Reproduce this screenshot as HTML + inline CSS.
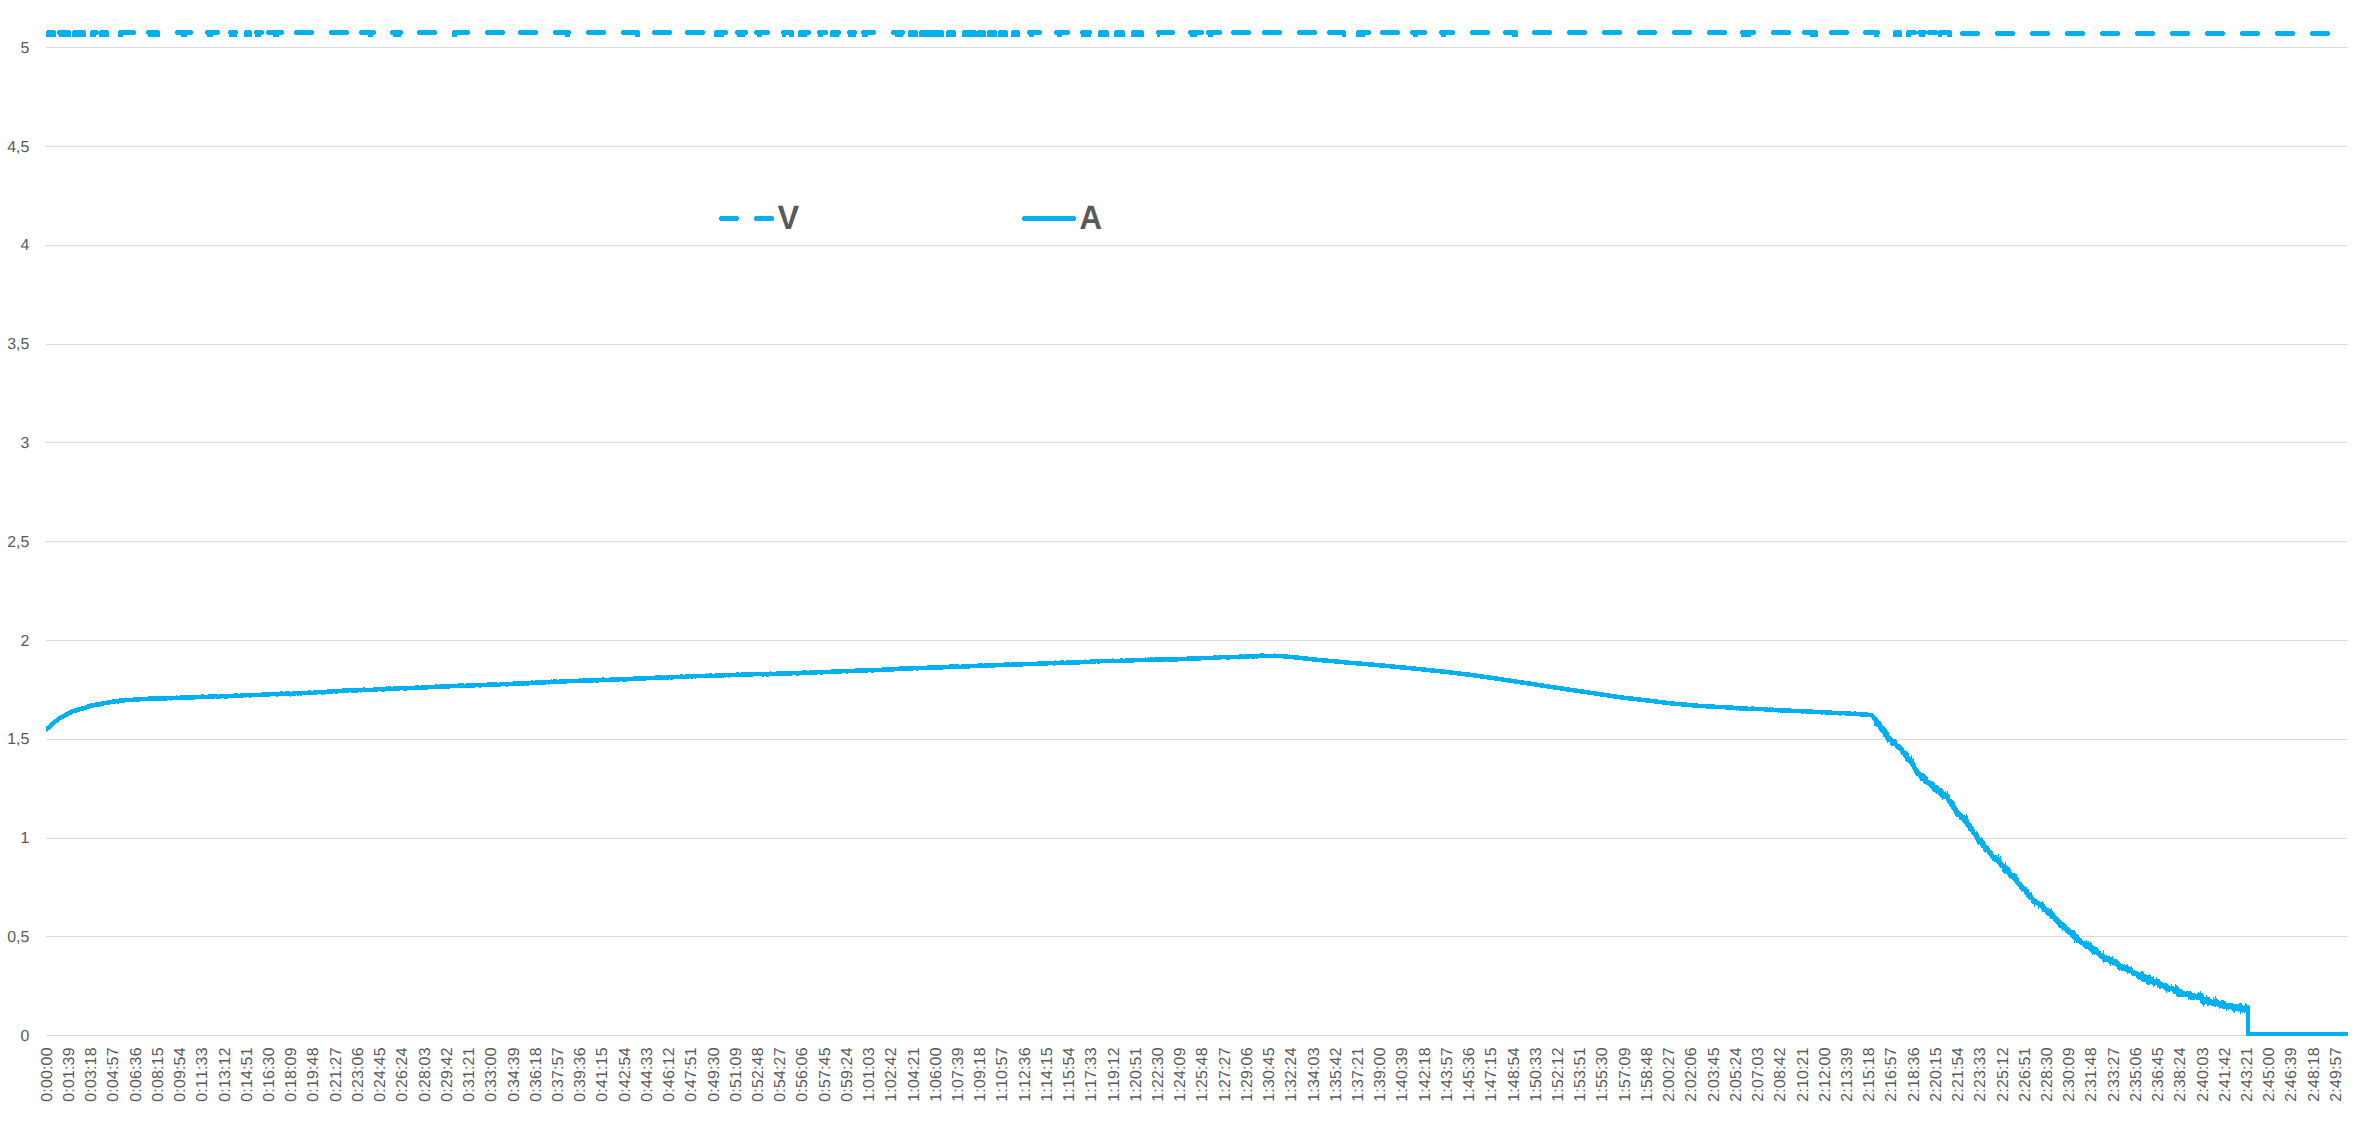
<!DOCTYPE html>
<html><head><meta charset="utf-8"><title>Chart</title>
<style>html,body{margin:0;padding:0;background:#fff;}body{width:2361px;height:1136px;overflow:hidden;}svg{display:block;}</style>
</head><body>
<svg width="2361" height="1136" viewBox="0 0 2361 1136"><path d="M46 47.5H2347 M46 146.5H2347 M46 245.5H2347 M46 344.5H2347 M46 442.5H2347 M46 541.5H2347 M46 640.5H2347 M46 739.5H2347 M46 838.5H2347 M46 936.5H2347 M46 1035.5H2347" stroke="#D9D9D9" stroke-width="1" fill="none"/><g font-family="Liberation Sans, Arial, sans-serif" font-size="15.9" fill="#595959" text-anchor="end" text-rendering="geometricPrecision"><text x="29.3" y="1040.8">0</text><text x="29.3" y="942.0">0,5</text><text x="29.3" y="843.2">1</text><text x="29.3" y="744.4">1,5</text><text x="29.3" y="645.6">2</text><text x="29.3" y="546.8">2,5</text><text x="29.3" y="448.0">3</text><text x="29.3" y="349.2">3,5</text><text x="29.3" y="250.4">4</text><text x="29.3" y="151.6">4,5</text><text x="29.3" y="52.8">5</text></g><g font-family="Liberation Sans, Arial, sans-serif" font-size="15.9" letter-spacing="0.2" fill="#595959" text-anchor="end" text-rendering="geometricPrecision" style="font-kerning:none"><text transform="translate(51.80 1047.3) rotate(-90)">0:00:00</text><text transform="translate(74.02 1047.3) rotate(-90)">0:01:39</text><text transform="translate(96.25 1047.3) rotate(-90)">0:03:18</text><text transform="translate(118.47 1047.3) rotate(-90)">0:04:57</text><text transform="translate(140.70 1047.3) rotate(-90)">0:06:36</text><text transform="translate(162.92 1047.3) rotate(-90)">0:08:15</text><text transform="translate(185.14 1047.3) rotate(-90)">0:09:54</text><text transform="translate(207.37 1047.3) rotate(-90)">0:11:33</text><text transform="translate(229.59 1047.3) rotate(-90)">0:13:12</text><text transform="translate(251.82 1047.3) rotate(-90)">0:14:51</text><text transform="translate(274.04 1047.3) rotate(-90)">0:16:30</text><text transform="translate(296.26 1047.3) rotate(-90)">0:18:09</text><text transform="translate(318.49 1047.3) rotate(-90)">0:19:48</text><text transform="translate(340.71 1047.3) rotate(-90)">0:21:27</text><text transform="translate(362.94 1047.3) rotate(-90)">0:23:06</text><text transform="translate(385.16 1047.3) rotate(-90)">0:24:45</text><text transform="translate(407.38 1047.3) rotate(-90)">0:26:24</text><text transform="translate(429.61 1047.3) rotate(-90)">0:28:03</text><text transform="translate(451.83 1047.3) rotate(-90)">0:29:42</text><text transform="translate(474.06 1047.3) rotate(-90)">0:31:21</text><text transform="translate(496.28 1047.3) rotate(-90)">0:33:00</text><text transform="translate(518.50 1047.3) rotate(-90)">0:34:39</text><text transform="translate(540.73 1047.3) rotate(-90)">0:36:18</text><text transform="translate(562.95 1047.3) rotate(-90)">0:37:57</text><text transform="translate(585.18 1047.3) rotate(-90)">0:39:36</text><text transform="translate(607.40 1047.3) rotate(-90)">0:41:15</text><text transform="translate(629.62 1047.3) rotate(-90)">0:42:54</text><text transform="translate(651.85 1047.3) rotate(-90)">0:44:33</text><text transform="translate(674.07 1047.3) rotate(-90)">0:46:12</text><text transform="translate(696.30 1047.3) rotate(-90)">0:47:51</text><text transform="translate(718.52 1047.3) rotate(-90)">0:49:30</text><text transform="translate(740.74 1047.3) rotate(-90)">0:51:09</text><text transform="translate(762.97 1047.3) rotate(-90)">0:52:48</text><text transform="translate(785.19 1047.3) rotate(-90)">0:54:27</text><text transform="translate(807.42 1047.3) rotate(-90)">0:56:06</text><text transform="translate(829.64 1047.3) rotate(-90)">0:57:45</text><text transform="translate(851.86 1047.3) rotate(-90)">0:59:24</text><text transform="translate(874.09 1047.3) rotate(-90)">1:01:03</text><text transform="translate(896.31 1047.3) rotate(-90)">1:02:42</text><text transform="translate(918.54 1047.3) rotate(-90)">1:04:21</text><text transform="translate(940.76 1047.3) rotate(-90)">1:06:00</text><text transform="translate(962.98 1047.3) rotate(-90)">1:07:39</text><text transform="translate(985.21 1047.3) rotate(-90)">1:09:18</text><text transform="translate(1007.43 1047.3) rotate(-90)">1:10:57</text><text transform="translate(1029.66 1047.3) rotate(-90)">1:12:36</text><text transform="translate(1051.88 1047.3) rotate(-90)">1:14:15</text><text transform="translate(1074.10 1047.3) rotate(-90)">1:15:54</text><text transform="translate(1096.33 1047.3) rotate(-90)">1:17:33</text><text transform="translate(1118.55 1047.3) rotate(-90)">1:19:12</text><text transform="translate(1140.78 1047.3) rotate(-90)">1:20:51</text><text transform="translate(1163.00 1047.3) rotate(-90)">1:22:30</text><text transform="translate(1185.22 1047.3) rotate(-90)">1:24:09</text><text transform="translate(1207.45 1047.3) rotate(-90)">1:25:48</text><text transform="translate(1229.67 1047.3) rotate(-90)">1:27:27</text><text transform="translate(1251.90 1047.3) rotate(-90)">1:29:06</text><text transform="translate(1274.12 1047.3) rotate(-90)">1:30:45</text><text transform="translate(1296.34 1047.3) rotate(-90)">1:32:24</text><text transform="translate(1318.57 1047.3) rotate(-90)">1:34:03</text><text transform="translate(1340.79 1047.3) rotate(-90)">1:35:42</text><text transform="translate(1363.02 1047.3) rotate(-90)">1:37:21</text><text transform="translate(1385.24 1047.3) rotate(-90)">1:39:00</text><text transform="translate(1407.46 1047.3) rotate(-90)">1:40:39</text><text transform="translate(1429.69 1047.3) rotate(-90)">1:42:18</text><text transform="translate(1451.91 1047.3) rotate(-90)">1:43:57</text><text transform="translate(1474.14 1047.3) rotate(-90)">1:45:36</text><text transform="translate(1496.36 1047.3) rotate(-90)">1:47:15</text><text transform="translate(1518.58 1047.3) rotate(-90)">1:48:54</text><text transform="translate(1540.81 1047.3) rotate(-90)">1:50:33</text><text transform="translate(1563.03 1047.3) rotate(-90)">1:52:12</text><text transform="translate(1585.26 1047.3) rotate(-90)">1:53:51</text><text transform="translate(1607.48 1047.3) rotate(-90)">1:55:30</text><text transform="translate(1629.70 1047.3) rotate(-90)">1:57:09</text><text transform="translate(1651.93 1047.3) rotate(-90)">1:58:48</text><text transform="translate(1674.15 1047.3) rotate(-90)">2:00:27</text><text transform="translate(1696.38 1047.3) rotate(-90)">2:02:06</text><text transform="translate(1718.60 1047.3) rotate(-90)">2:03:45</text><text transform="translate(1740.82 1047.3) rotate(-90)">2:05:24</text><text transform="translate(1763.05 1047.3) rotate(-90)">2:07:03</text><text transform="translate(1785.27 1047.3) rotate(-90)">2:08:42</text><text transform="translate(1807.50 1047.3) rotate(-90)">2:10:21</text><text transform="translate(1829.72 1047.3) rotate(-90)">2:12:00</text><text transform="translate(1851.94 1047.3) rotate(-90)">2:13:39</text><text transform="translate(1874.17 1047.3) rotate(-90)">2:15:18</text><text transform="translate(1896.39 1047.3) rotate(-90)">2:16:57</text><text transform="translate(1918.62 1047.3) rotate(-90)">2:18:36</text><text transform="translate(1940.84 1047.3) rotate(-90)">2:20:15</text><text transform="translate(1963.06 1047.3) rotate(-90)">2:21:54</text><text transform="translate(1985.29 1047.3) rotate(-90)">2:23:33</text><text transform="translate(2007.51 1047.3) rotate(-90)">2:25:12</text><text transform="translate(2029.74 1047.3) rotate(-90)">2:26:51</text><text transform="translate(2051.96 1047.3) rotate(-90)">2:28:30</text><text transform="translate(2074.18 1047.3) rotate(-90)">2:30:09</text><text transform="translate(2096.41 1047.3) rotate(-90)">2:31:48</text><text transform="translate(2118.63 1047.3) rotate(-90)">2:33:27</text><text transform="translate(2140.86 1047.3) rotate(-90)">2:35:06</text><text transform="translate(2163.08 1047.3) rotate(-90)">2:36:45</text><text transform="translate(2185.30 1047.3) rotate(-90)">2:38:24</text><text transform="translate(2207.53 1047.3) rotate(-90)">2:40:03</text><text transform="translate(2229.75 1047.3) rotate(-90)">2:41:42</text><text transform="translate(2251.98 1047.3) rotate(-90)">2:43:21</text><text transform="translate(2274.20 1047.3) rotate(-90)">2:45:00</text><text transform="translate(2296.42 1047.3) rotate(-90)">2:46:39</text><text transform="translate(2318.65 1047.3) rotate(-90)">2:48:18</text><text transform="translate(2340.87 1047.3) rotate(-90)">2:49:57</text></g><defs><clipPath id="pa"><rect x="46" y="0" width="2302" height="1136"/></clipPath><path id="al" d="M46.0 729.38 47.5 728.45 49.0 727.35 50.5 725.80 52.0 724.12 53.5 722.81 55.0 721.58 56.5 720.76 58.0 719.41 59.5 718.41 61.0 717.74 62.5 716.66 64.0 716.01 65.5 715.15 67.0 714.18 68.5 713.34 70.0 713.03 71.5 711.72 73.0 711.16 74.5 710.64 76.0 710.39 77.5 709.91 79.0 709.33 80.5 708.93 82.0 708.60 83.5 708.28 85.0 707.88 86.5 707.20 88.0 706.32 89.5 706.36 91.0 705.63 92.5 705.49 94.0 704.90 95.5 704.81 97.0 704.33 98.5 704.26 100.0 704.57 101.5 703.72 103.0 703.59 104.5 702.91 106.0 702.85 107.5 702.80 109.0 702.45 110.5 702.23 112.0 701.84 113.5 701.29 115.0 701.39 116.5 701.00 118.0 701.34 119.5 700.69 121.0 700.69 122.5 700.37 124.0 700.40 125.5 699.98 127.0 700.17 128.5 699.93 130.0 700.14 131.5 699.94 133.0 699.71 134.5 699.40 136.0 699.54 137.5 699.36 139.0 699.49 140.5 699.04 142.0 699.12 143.5 699.03 145.0 698.91 146.5 698.82 148.0 698.77 149.5 698.58 151.0 698.46 152.5 698.52 154.0 698.65 155.5 698.77 157.0 698.63 158.5 698.60 160.0 698.50 161.5 698.44 163.0 698.30 164.5 698.36 166.0 698.49 167.5 698.06 169.0 697.95 170.5 698.38 172.0 698.02 173.5 698.10 175.0 698.03 176.5 697.61 178.0 698.20 179.5 698.03 181.0 697.69 182.5 697.74 184.0 697.58 185.5 697.34 187.0 697.43 188.5 697.46 190.0 697.54 191.5 697.42 193.0 697.25 194.5 697.43 196.0 696.99 197.5 697.22 199.0 697.23 200.5 696.93 202.0 696.61 203.5 696.73 205.0 696.89 206.5 696.89 208.0 697.03 209.5 696.52 211.0 696.65 212.5 696.72 214.0 696.53 215.5 696.09 217.0 696.61 218.5 696.84 220.0 696.55 221.5 696.16 223.0 696.20 224.5 696.25 226.0 696.60 227.5 696.21 229.0 696.06 230.5 696.26 232.0 695.90 233.5 696.19 235.0 695.68 236.5 695.66 238.0 695.81 239.5 695.88 241.0 695.68 242.5 695.56 244.0 695.12 245.5 695.26 247.0 695.22 248.5 695.17 250.0 695.31 251.5 695.08 253.0 695.21 254.5 695.02 256.0 694.88 257.5 694.90 259.0 694.89 260.5 694.90 262.0 694.59 263.5 694.57 265.0 694.31 266.5 694.77 268.0 694.68 269.5 694.32 271.0 694.20 272.5 694.00 274.0 694.20 275.5 694.16 277.0 694.47 278.5 694.07 280.0 693.84 281.5 693.50 283.0 694.14 284.5 693.88 286.0 693.50 287.5 693.78 289.0 693.41 290.5 694.28 292.0 693.81 293.5 693.66 295.0 693.48 296.5 693.08 298.0 693.39 299.5 693.07 301.0 693.37 302.5 692.80 304.0 692.93 305.5 693.24 307.0 693.23 308.5 692.64 310.0 692.49 311.5 692.84 313.0 692.76 314.5 692.34 316.0 692.31 317.5 692.23 319.0 692.06 320.5 692.07 322.0 692.33 323.5 692.15 325.0 692.31 326.5 691.83 328.0 691.72 329.5 691.47 331.0 691.53 332.5 691.22 334.0 691.04 335.5 691.39 337.0 691.43 338.5 691.23 340.0 691.22 341.5 690.93 343.0 690.66 344.5 690.71 346.0 690.53 347.5 690.35 349.0 690.19 350.5 690.17 352.0 690.39 353.5 690.36 355.0 690.20 356.5 690.49 358.0 690.21 359.5 690.23 361.0 690.29 362.5 689.87 364.0 689.61 365.5 690.04 367.0 689.73 368.5 690.04 370.0 689.81 371.5 689.88 373.0 689.76 374.5 689.18 376.0 689.61 377.5 689.29 379.0 689.20 380.5 689.19 382.0 689.34 383.5 689.29 385.0 689.24 386.5 688.69 388.0 688.81 389.5 688.42 391.0 688.76 392.5 688.81 394.0 688.49 395.5 688.61 397.0 688.53 398.5 688.62 400.0 688.24 401.5 688.18 403.0 688.14 404.5 688.54 406.0 688.37 407.5 688.10 409.0 688.11 410.5 688.04 412.0 688.00 413.5 687.87 415.0 687.80 416.5 687.58 418.0 687.64 419.5 688.00 421.0 687.74 422.5 687.60 424.0 687.47 425.5 687.45 427.0 687.42 428.5 687.17 430.0 687.24 431.5 687.17 433.0 686.92 434.5 686.83 436.0 686.72 437.5 686.63 439.0 686.91 440.5 686.24 442.0 686.54 443.5 686.40 445.0 686.33 446.5 686.38 448.0 686.49 449.5 686.25 451.0 686.16 452.5 686.02 454.0 686.05 455.5 686.19 457.0 685.90 458.5 685.71 460.0 685.64 461.5 685.61 463.0 685.51 464.5 685.90 466.0 685.72 467.5 685.56 469.0 685.81 470.5 685.37 472.0 685.57 473.5 685.53 475.0 685.05 476.5 684.99 478.0 685.04 479.5 685.31 481.0 685.32 482.5 684.81 484.0 685.16 485.5 684.84 487.0 684.78 488.5 684.69 490.0 684.68 491.5 684.35 493.0 684.44 494.5 684.34 496.0 684.59 497.5 684.82 499.0 684.87 500.5 684.26 502.0 683.95 503.5 684.13 505.0 683.98 506.5 684.44 508.0 684.13 509.5 683.84 511.0 684.08 512.5 683.95 514.0 683.50 515.5 683.64 517.0 683.63 518.5 683.62 520.0 683.58 521.5 683.44 523.0 683.47 524.5 683.26 526.0 683.12 527.5 683.47 529.0 683.17 530.5 683.09 532.0 682.64 533.5 682.81 535.0 682.90 536.5 682.43 538.0 682.77 539.5 682.41 541.0 682.47 542.5 682.28 544.0 682.26 545.5 682.35 547.0 681.99 548.5 682.28 550.0 681.80 551.5 681.72 553.0 681.95 554.5 681.57 556.0 681.64 557.5 681.81 559.0 681.81 560.5 681.21 562.0 681.56 563.5 681.75 565.0 681.57 566.5 681.25 568.0 681.13 569.5 681.12 571.0 680.91 572.5 681.01 574.0 680.97 575.5 680.93 577.0 681.11 578.5 680.81 580.0 680.53 581.5 680.93 583.0 680.50 584.5 680.56 586.0 680.56 587.5 680.47 589.0 680.30 590.5 680.38 592.0 680.76 593.5 680.21 595.0 680.24 596.5 680.41 598.0 680.29 599.5 680.24 601.0 680.21 602.5 679.64 604.0 679.79 605.5 679.92 607.0 679.93 608.5 680.02 610.0 679.82 611.5 679.64 613.0 679.64 614.5 679.54 616.0 679.57 617.5 679.59 619.0 679.36 620.5 679.22 622.0 679.16 623.5 679.45 625.0 679.41 626.5 679.30 628.0 679.21 629.5 679.14 631.0 678.92 632.5 678.98 634.0 678.60 635.5 678.69 637.0 678.53 638.5 678.73 640.0 678.43 641.5 678.45 643.0 678.48 644.5 678.58 646.0 678.13 647.5 678.04 649.0 678.29 650.5 677.88 652.0 678.10 653.5 677.85 655.0 677.86 656.5 677.49 658.0 677.88 659.5 677.60 661.0 677.46 662.5 677.93 664.0 677.62 665.5 678.06 667.0 677.44 668.5 677.24 670.0 677.25 671.5 677.46 673.0 677.10 674.5 677.13 676.0 677.09 677.5 676.78 679.0 676.91 680.5 676.75 682.0 676.56 683.5 676.89 685.0 676.80 686.5 676.64 688.0 676.41 689.5 676.16 691.0 676.55 692.5 676.40 694.0 676.06 695.5 676.30 697.0 675.98 698.5 676.20 700.0 676.17 701.5 676.16 703.0 676.08 704.5 676.02 706.0 675.73 707.5 675.81 709.0 675.74 710.5 675.73 712.0 675.77 713.5 675.78 715.0 675.91 716.5 675.10 718.0 675.58 719.5 675.42 721.0 675.82 722.5 675.52 724.0 675.00 725.5 675.32 727.0 675.10 728.5 675.32 730.0 674.89 731.5 675.01 733.0 674.95 734.5 674.90 736.0 674.76 737.5 674.48 739.0 674.84 740.5 674.88 742.0 674.63 743.5 674.41 745.0 674.57 746.5 674.59 748.0 674.43 749.5 674.43 751.0 674.66 752.5 674.17 754.0 674.24 755.5 673.97 757.0 674.16 758.5 674.12 760.0 674.05 761.5 674.07 763.0 674.49 764.5 674.10 766.0 674.09 767.5 674.47 769.0 674.04 770.5 673.71 772.0 674.05 773.5 673.76 775.0 674.17 776.5 673.60 778.0 673.66 779.5 673.42 781.0 673.68 782.5 673.42 784.0 673.54 785.5 673.43 787.0 673.34 788.5 673.56 790.0 673.51 791.5 673.30 793.0 673.07 794.5 672.99 796.0 673.18 797.5 673.51 799.0 672.94 800.5 672.83 802.0 672.79 803.5 672.67 805.0 672.64 806.5 672.72 808.0 672.96 809.5 672.65 811.0 672.51 812.5 672.26 814.0 672.53 815.5 672.44 817.0 672.17 818.5 672.14 820.0 672.27 821.5 672.41 823.0 672.28 824.5 672.13 826.0 671.97 827.5 672.01 829.0 671.88 830.5 672.20 832.0 671.54 833.5 671.60 835.0 671.83 836.5 671.48 838.0 671.71 839.5 671.38 841.0 671.34 842.5 671.18 844.0 670.93 845.5 670.93 847.0 671.43 848.5 671.09 850.0 671.04 851.5 671.05 853.0 670.94 854.5 670.97 856.0 670.69 857.5 670.65 859.0 670.82 860.5 670.53 862.0 670.31 863.5 670.46 865.0 670.36 866.5 670.52 868.0 670.23 869.5 670.12 871.0 670.21 872.5 670.50 874.0 670.14 875.5 670.10 877.0 669.99 878.5 669.96 880.0 669.99 881.5 669.99 883.0 669.36 884.5 669.82 886.0 669.49 887.5 669.35 889.0 669.76 890.5 669.21 892.0 669.51 893.5 669.25 895.0 668.81 896.5 669.00 898.0 668.96 899.5 668.75 901.0 668.30 902.5 668.61 904.0 668.59 905.5 668.38 907.0 668.86 908.5 668.44 910.0 668.37 911.5 668.34 913.0 668.20 914.5 668.16 916.0 668.27 917.5 668.26 919.0 668.07 920.5 668.09 922.0 667.81 923.5 668.11 925.0 667.82 926.5 667.93 928.0 667.65 929.5 667.66 931.0 667.72 932.5 667.40 934.0 667.99 935.5 667.47 937.0 667.40 938.5 667.21 940.0 667.56 941.5 667.45 943.0 667.19 944.5 666.82 946.0 666.91 947.5 667.06 949.0 666.81 950.5 666.65 952.0 666.60 953.5 666.62 955.0 666.72 956.5 666.55 958.0 666.63 959.5 667.08 961.0 666.85 962.5 666.29 964.0 666.49 965.5 666.40 967.0 666.31 968.5 666.48 970.0 666.18 971.5 666.14 973.0 666.07 974.5 666.06 976.0 666.25 977.5 666.10 979.0 665.66 980.5 665.76 982.0 665.64 983.5 665.87 985.0 665.71 986.5 665.77 988.0 665.54 989.5 665.14 991.0 665.51 992.5 665.41 994.0 665.40 995.5 665.02 997.0 665.21 998.5 665.02 1000.0 664.96 1001.5 665.10 1003.0 665.04 1004.5 664.77 1006.0 664.57 1007.5 664.38 1009.0 664.67 1010.5 664.92 1012.0 664.65 1013.5 664.21 1015.0 664.40 1016.5 664.58 1018.0 664.75 1019.5 664.61 1021.0 664.41 1022.5 664.33 1024.0 664.04 1025.5 664.08 1027.0 664.04 1028.5 663.89 1030.0 663.98 1031.5 663.83 1033.0 663.90 1034.5 664.03 1036.0 663.84 1037.5 663.72 1039.0 663.53 1040.5 663.24 1042.0 663.43 1043.5 663.48 1045.0 663.14 1046.5 663.48 1048.0 663.13 1049.5 663.21 1051.0 663.04 1052.5 662.82 1054.0 663.37 1055.5 662.75 1057.0 663.07 1058.5 662.76 1060.0 662.86 1061.5 662.62 1063.0 662.64 1064.5 662.84 1066.0 662.97 1067.5 662.42 1069.0 662.53 1070.5 662.65 1072.0 662.32 1073.5 662.51 1075.0 662.18 1076.5 662.36 1078.0 662.27 1079.5 662.34 1081.0 662.12 1082.5 661.78 1084.0 662.05 1085.5 661.66 1087.0 661.93 1088.5 662.00 1090.0 661.78 1091.5 661.50 1093.0 661.75 1094.5 661.50 1096.0 661.18 1097.5 661.28 1099.0 661.54 1100.5 661.20 1102.0 661.24 1103.5 661.12 1105.0 660.84 1106.5 661.02 1108.0 661.14 1109.5 661.08 1111.0 660.97 1112.5 660.59 1114.0 661.16 1115.5 661.03 1117.0 661.05 1118.5 661.06 1120.0 660.71 1121.5 660.65 1123.0 660.78 1124.5 660.98 1126.0 660.32 1127.5 660.53 1129.0 660.39 1130.5 660.56 1132.0 660.67 1133.5 660.30 1135.0 660.08 1136.5 660.25 1138.0 660.14 1139.5 659.86 1141.0 660.24 1142.5 659.93 1144.0 660.10 1145.5 659.68 1147.0 660.08 1148.5 659.59 1150.0 660.01 1151.5 659.47 1153.0 660.01 1154.5 659.67 1156.0 659.42 1157.5 659.63 1159.0 659.70 1160.5 659.44 1162.0 659.50 1163.5 659.60 1165.0 659.50 1166.5 658.94 1168.0 659.39 1169.5 659.51 1171.0 659.46 1172.5 659.54 1174.0 659.17 1175.5 659.70 1177.0 659.32 1178.5 659.18 1180.0 659.26 1181.5 659.17 1183.0 658.96 1184.5 658.77 1186.0 659.01 1187.5 658.84 1189.0 658.37 1190.5 658.45 1192.0 658.67 1193.5 658.55 1195.0 658.52 1196.5 658.53 1198.0 658.38 1199.5 658.58 1201.0 658.13 1202.5 658.10 1204.0 658.18 1205.5 658.19 1207.0 658.14 1208.5 658.21 1210.0 657.80 1211.5 658.03 1213.0 657.85 1214.5 657.52 1216.0 657.62 1217.5 657.96 1219.0 657.67 1220.5 657.39 1222.0 656.98 1223.5 657.23 1225.0 657.18 1226.5 657.27 1228.0 657.61 1229.5 657.28 1231.0 657.15 1232.5 656.87 1234.0 656.77 1235.5 656.89 1237.0 656.79 1238.5 657.37 1240.0 656.70 1241.5 656.61 1243.0 656.87 1244.5 656.63 1246.0 656.34 1247.5 656.74 1249.0 656.40 1250.5 656.16 1252.0 656.41 1253.5 656.38 1255.0 656.18 1256.5 656.31 1258.0 656.28 1259.5 655.92 1261.0 655.66 1262.5 655.54 1264.0 655.90 1265.5 656.12 1267.0 656.08 1268.5 656.15 1270.0 656.23 1271.5 655.90 1273.0 656.09 1274.5 655.62 1276.0 656.02 1277.5 655.97 1279.0 655.88 1280.5 655.82 1282.0 655.76 1283.5 656.20 1285.0 656.62 1286.5 656.50 1288.0 656.80 1289.5 656.73 1291.0 656.99 1294.0 657.27 1297.0 657.56 1300.0 657.88 1303.0 658.23 1306.0 658.58 1309.0 658.93 1312.0 659.27 1315.0 659.55 1318.0 659.83 1321.0 660.12 1324.0 660.40 1327.0 660.66 1330.0 660.92 1333.0 661.18 1336.0 661.44 1339.0 661.75 1342.0 662.07 1345.0 662.39 1348.0 662.66 1351.0 662.89 1354.0 663.13 1357.0 663.37 1360.0 663.60 1363.0 663.84 1366.0 664.07 1369.0 664.31 1372.0 664.56 1375.0 664.84 1378.0 665.12 1381.0 665.41 1384.0 665.69 1387.0 665.97 1390.0 666.26 1393.0 666.54 1396.0 666.82 1399.0 667.12 1402.0 667.41 1405.0 667.70 1408.0 668.00 1411.0 668.29 1414.0 668.59 1417.0 668.88 1420.0 669.17 1423.0 669.47 1426.0 669.79 1429.0 670.11 1432.0 670.43 1435.0 670.75 1438.0 671.07 1441.0 671.39 1444.0 671.71 1447.0 672.03 1450.0 672.38 1453.0 672.75 1456.0 673.11 1459.0 673.48 1462.0 673.85 1465.0 674.21 1468.0 674.58 1471.0 674.94 1474.0 675.33 1477.0 675.77 1480.0 676.21 1483.0 676.64 1486.0 677.08 1489.0 677.52 1492.0 677.95 1495.0 678.39 1498.0 678.83 1501.0 679.28 1504.0 679.74 1507.0 680.20 1510.0 680.66 1513.0 681.12 1516.0 681.58 1519.0 682.04 1522.0 682.49 1525.0 682.95 1528.0 683.40 1531.0 683.85 1534.0 684.30 1537.0 684.75 1540.0 685.20 1543.0 685.65 1546.0 686.10 1549.0 686.56 1552.0 687.02 1555.0 687.48 1558.0 687.94 1561.0 688.40 1564.0 688.86 1567.0 689.32 1570.0 689.79 1573.0 690.23 1576.0 690.67 1579.0 691.11 1582.0 691.54 1585.0 691.98 1588.0 692.42 1591.0 692.86 1594.0 693.29 1597.0 693.73 1600.0 694.19 1603.0 694.65 1606.0 695.11 1609.0 695.57 1612.0 696.02 1615.0 696.48 1618.0 696.94 1621.0 697.40 1624.0 697.79 1627.0 698.14 1630.0 698.48 1633.0 698.82 1636.0 699.16 1639.0 699.51 1642.0 699.85 1645.0 700.19 1648.0 700.54 1651.0 700.90 1654.0 701.27 1657.0 701.64 1660.0 702.00 1663.0 702.37 1666.0 702.73 1669.0 703.10 1672.0 703.47 1675.0 703.76 1678.0 704.02 1681.0 704.28 1684.0 704.54 1687.0 704.80 1690.0 705.06 1693.0 705.32 1696.0 705.58 1699.0 705.83 1702.0 706.01 1705.0 706.18 1708.0 706.36 1711.0 706.54 1714.0 706.71 1717.0 706.89 1720.0 707.06 1723.0 707.28 1724.5 707.17 1726.0 707.48 1727.5 707.47 1729.0 707.65 1730.5 707.59 1732.0 707.58 1733.5 707.81 1735.0 708.12 1736.5 708.29 1738.0 708.08 1739.5 708.34 1741.0 708.43 1742.5 708.46 1744.0 708.23 1745.5 708.62 1747.0 708.47 1748.5 708.86 1750.0 708.84 1751.5 708.86 1753.0 708.39 1754.5 708.98 1756.0 709.07 1757.5 708.83 1759.0 709.27 1760.5 709.21 1762.0 709.24 1763.5 709.24 1765.0 709.27 1766.5 709.44 1768.0 710.08 1769.5 709.70 1771.0 709.78 1772.5 709.72 1774.0 709.80 1775.5 709.89 1777.0 709.91 1778.5 710.27 1780.0 710.16 1781.5 710.41 1783.0 710.17 1784.5 710.57 1786.0 710.50 1787.5 710.68 1789.0 710.63 1790.5 710.58 1792.0 710.99 1793.5 710.80 1795.0 710.92 1796.5 710.87 1798.0 711.12 1799.5 711.09 1801.0 711.27 1802.5 711.35 1804.0 711.26 1805.5 711.21 1807.0 711.58 1808.5 711.73 1810.0 711.76 1811.5 711.54 1813.0 711.90 1814.5 711.94 1816.0 712.00 1817.5 712.09 1819.0 712.05 1820.5 712.21 1822.0 712.40 1823.5 712.24 1825.0 712.17 1826.5 712.46 1828.0 712.58 1829.5 712.33 1831.0 712.59 1832.5 712.86 1834.0 712.81 1835.5 712.92 1837.0 712.77 1838.5 713.18 1840.0 713.39 1841.5 713.14 1843.0 713.12 1844.5 713.12 1846.0 713.52 1847.5 713.46 1849.0 713.38 1850.5 713.77 1852.0 713.80 1853.5 713.88 1855.0 713.61 1856.5 713.99 1858.0 714.21 1859.5 714.03 1861.0 714.48 1862.5 714.67 1864.0 714.72 1865.5 714.55 1867.0 714.63 1868.5 714.97 1870.0 715.04 1871.5 715.15 1873.0 716.30 1874.5 719.39 1875.0 719.80 1875.4 718.57 1875.9 721.37 1876.3 724.31 1876.8 722.66 1877.2 722.39 1877.7 723.87 1878.1 724.41 1878.6 723.00 1879.0 723.56 1879.5 723.61 1879.9 727.35 1880.4 725.94 1880.8 727.47 1881.3 729.46 1881.7 730.43 1882.2 730.54 1882.6 731.10 1883.1 728.68 1883.5 729.34 1884.0 729.64 1884.4 730.73 1884.9 734.81 1885.3 732.01 1885.8 733.99 1886.2 733.20 1886.7 736.11 1887.1 737.37 1887.6 736.14 1888.0 738.88 1888.5 737.97 1888.9 739.33 1889.4 739.04 1889.8 738.30 1890.3 738.57 1890.7 739.28 1891.2 740.66 1891.6 740.93 1892.1 743.73 1892.5 742.15 1893.0 741.55 1893.4 741.33 1893.9 741.44 1894.3 741.02 1894.8 741.62 1895.2 744.18 1895.7 744.40 1896.1 744.48 1896.6 745.34 1897.0 746.69 1897.5 746.99 1897.9 747.56 1898.4 746.60 1898.8 746.88 1899.3 746.72 1899.7 747.70 1900.2 747.55 1900.6 748.29 1901.1 749.06 1901.5 749.59 1902.0 750.01 1902.4 750.35 1902.9 753.02 1903.3 752.64 1903.8 752.27 1904.2 753.97 1904.7 753.66 1905.1 754.07 1905.6 755.99 1906.0 755.24 1906.5 753.77 1906.9 757.34 1907.4 759.70 1907.8 757.84 1908.3 758.34 1908.7 760.44 1909.2 758.65 1909.6 759.54 1910.1 759.79 1910.5 761.29 1911.0 760.15 1911.4 763.21 1911.9 763.58 1912.3 764.87 1912.8 765.21 1913.2 763.93 1913.7 766.22 1914.1 766.29 1914.6 768.38 1915.0 768.64 1915.5 769.50 1915.9 770.20 1916.4 771.83 1916.8 772.68 1917.3 771.32 1917.7 772.23 1918.2 774.46 1918.6 774.47 1919.1 773.42 1919.5 774.02 1920.0 774.27 1920.4 776.07 1920.9 775.99 1921.3 776.63 1921.8 779.17 1922.2 776.40 1922.7 776.12 1923.1 775.53 1923.6 775.77 1924.0 778.84 1924.5 779.57 1924.9 781.47 1925.4 778.38 1925.8 778.71 1926.3 781.59 1926.7 782.35 1927.2 782.67 1927.6 782.98 1928.1 782.37 1928.5 782.32 1929.0 782.56 1929.4 783.74 1929.9 783.26 1930.3 783.83 1930.8 785.49 1931.2 783.44 1931.7 783.35 1932.1 784.99 1932.6 784.89 1933.0 785.21 1933.5 788.03 1933.9 787.40 1934.4 786.49 1934.8 788.08 1935.3 790.42 1935.7 787.49 1936.2 787.17 1936.6 788.16 1937.1 787.91 1937.5 791.17 1938.0 790.75 1938.4 789.83 1938.9 790.74 1939.3 789.89 1939.8 790.05 1940.2 791.14 1940.7 794.28 1941.1 790.52 1941.6 792.40 1942.0 794.33 1942.5 794.58 1942.9 796.22 1943.4 795.42 1943.8 795.05 1944.3 794.87 1944.7 794.33 1945.2 797.26 1945.6 795.54 1946.1 796.46 1946.5 796.70 1947.0 796.84 1947.4 795.67 1947.9 797.63 1948.3 799.25 1948.8 800.17 1949.2 801.62 1949.7 801.37 1950.1 801.17 1950.6 802.58 1951.0 803.88 1951.5 803.02 1951.9 802.46 1952.4 803.23 1952.8 806.20 1953.3 807.59 1953.7 806.42 1954.2 807.53 1954.6 809.13 1955.1 810.65 1955.5 809.43 1956.0 809.89 1956.4 812.30 1956.9 814.67 1957.3 814.96 1957.8 812.55 1958.2 813.88 1958.7 813.96 1959.1 814.68 1959.6 814.49 1960.0 814.77 1960.5 815.58 1960.9 818.06 1961.4 817.91 1961.8 817.75 1962.3 817.45 1962.7 816.69 1963.2 817.20 1963.6 819.18 1964.1 819.63 1964.5 821.23 1965.0 820.60 1965.4 820.59 1965.9 819.35 1966.3 821.65 1966.8 820.63 1967.2 824.37 1967.7 823.83 1968.1 824.84 1968.6 824.23 1969.0 825.47 1969.5 825.95 1969.9 828.90 1970.4 829.37 1970.8 828.31 1971.3 827.50 1971.7 829.65 1972.2 830.33 1972.6 830.27 1973.1 832.50 1973.5 832.82 1974.0 833.64 1974.4 833.54 1974.9 833.91 1975.3 834.55 1975.8 833.90 1976.2 836.51 1976.7 837.57 1977.1 835.98 1977.6 837.82 1978.0 840.01 1978.5 840.15 1978.9 841.68 1979.4 840.80 1979.8 841.12 1980.3 840.11 1980.7 840.52 1981.2 839.97 1981.6 841.12 1982.1 843.09 1982.5 844.41 1983.0 845.90 1983.4 845.60 1983.9 844.59 1984.3 846.11 1984.8 846.34 1985.2 848.86 1985.7 850.25 1986.1 849.96 1986.6 847.87 1987.0 848.14 1987.5 849.36 1987.9 849.13 1988.4 850.75 1988.8 851.83 1989.3 852.72 1989.7 852.69 1990.2 851.80 1990.6 851.87 1991.1 853.02 1991.5 855.36 1992.0 856.78 1992.4 856.96 1992.9 856.69 1993.3 857.27 1993.8 857.97 1994.2 859.08 1994.7 859.32 1995.1 857.11 1995.6 859.40 1996.0 859.86 1996.5 859.38 1996.9 860.60 1997.4 861.06 1997.8 861.14 1998.3 859.66 1998.7 861.42 1999.2 862.83 1999.6 862.95 2000.1 861.59 2000.5 863.66 2001.0 864.97 2001.4 865.13 2001.9 865.76 2002.3 865.41 2002.8 865.25 2003.2 866.79 2003.7 866.66 2004.1 867.51 2004.6 871.48 2005.0 870.37 2005.5 869.65 2005.9 867.76 2006.4 869.29 2006.8 870.85 2007.3 870.08 2007.7 870.63 2008.2 868.90 2008.6 871.68 2009.1 871.69 2009.5 873.40 2010.0 875.04 2010.4 874.24 2010.9 875.52 2011.3 875.45 2011.8 875.23 2012.2 875.37 2012.7 875.08 2013.1 877.63 2013.6 878.38 2014.0 876.88 2014.5 878.73 2014.9 877.98 2015.4 877.19 2015.8 880.21 2016.3 878.87 2016.7 881.44 2017.2 881.58 2017.6 882.73 2018.1 883.04 2018.5 884.18 2019.0 884.01 2019.4 884.54 2019.9 884.69 2020.3 886.00 2020.8 885.15 2021.2 886.73 2021.7 888.15 2022.1 887.25 2022.6 887.81 2023.0 887.29 2023.5 887.68 2023.9 888.77 2024.4 888.89 2024.8 888.71 2025.3 889.98 2025.7 891.04 2026.2 891.94 2026.6 893.06 2027.1 891.11 2027.5 894.31 2028.0 894.07 2028.4 893.70 2028.9 894.40 2029.3 895.92 2029.8 897.30 2030.2 896.81 2030.7 897.59 2031.1 896.32 2031.6 898.20 2032.0 898.75 2032.5 898.76 2032.9 900.43 2033.4 902.21 2033.8 902.21 2034.3 900.42 2034.7 902.54 2035.2 901.44 2035.6 901.59 2036.1 901.25 2036.5 902.48 2037.0 903.23 2037.4 903.25 2037.9 903.07 2038.3 903.29 2038.8 903.29 2039.2 905.01 2039.7 904.18 2040.1 904.60 2040.6 904.94 2041.0 904.72 2041.5 905.49 2041.9 904.65 2042.4 906.69 2042.8 907.81 2043.3 907.54 2043.7 909.74 2044.2 908.17 2044.6 909.39 2045.1 910.00 2045.5 909.36 2046.0 909.72 2046.4 911.35 2046.9 911.28 2047.3 911.76 2047.8 913.43 2048.2 913.02 2048.7 911.09 2049.1 911.74 2049.6 913.97 2050.0 913.98 2050.5 913.24 2050.9 912.28 2051.4 914.75 2051.8 917.20 2052.3 915.33 2052.7 913.96 2053.2 916.69 2053.6 916.79 2054.1 917.39 2054.5 917.86 2055.0 917.68 2055.4 919.37 2055.9 920.75 2056.3 920.89 2056.8 920.20 2057.2 921.97 2057.7 921.60 2058.1 922.49 2058.6 921.41 2059.0 923.04 2059.5 923.97 2059.9 925.16 2060.4 924.46 2060.8 924.94 2061.3 924.26 2061.7 925.88 2062.2 926.60 2062.6 927.45 2063.1 926.41 2063.5 925.39 2064.0 926.52 2064.4 926.99 2064.9 926.80 2065.3 928.44 2065.8 929.62 2066.2 929.67 2066.7 930.70 2067.1 930.51 2067.6 929.18 2068.0 929.38 2068.5 929.93 2068.9 931.49 2069.4 932.53 2069.8 932.27 2070.3 933.36 2070.7 931.98 2071.2 932.51 2071.6 934.70 2072.1 934.60 2072.5 935.48 2073.0 932.86 2073.4 932.44 2073.9 933.43 2074.3 936.08 2074.8 937.94 2075.2 936.41 2075.7 935.75 2076.1 935.74 2076.6 936.14 2077.0 938.11 2077.5 938.12 2077.9 940.77 2078.4 940.70 2078.8 939.41 2079.3 940.22 2079.7 940.30 2080.2 941.58 2080.6 942.39 2081.1 941.55 2081.5 942.84 2082.0 943.17 2082.4 942.81 2082.9 943.29 2083.3 944.15 2083.8 943.60 2084.2 943.26 2084.7 945.48 2085.1 945.12 2085.6 944.58 2086.0 945.77 2086.5 944.32 2086.9 945.71 2087.4 944.85 2087.8 945.67 2088.3 944.63 2088.7 945.57 2089.2 947.78 2089.6 947.54 2090.1 946.48 2090.5 949.45 2091.0 948.07 2091.4 950.02 2091.8 948.67 2092.3 947.33 2092.7 950.58 2093.2 949.41 2093.6 950.43 2094.1 951.39 2094.5 949.17 2095.0 950.03 2095.4 949.89 2095.9 951.37 2096.3 951.45 2096.8 950.37 2097.2 951.65 2097.7 953.10 2098.1 952.70 2098.6 953.72 2099.0 953.14 2099.5 953.69 2099.9 954.55 2100.4 954.87 2100.8 956.43 2101.3 956.87 2101.7 957.14 2102.2 957.35 2102.6 957.04 2103.1 955.72 2103.5 957.76 2104.0 959.35 2104.4 958.42 2104.9 957.72 2105.3 957.86 2105.8 959.39 2106.2 959.08 2106.7 957.75 2107.1 958.30 2107.6 957.99 2108.0 958.64 2108.5 958.27 2108.9 958.30 2109.4 961.00 2109.8 961.62 2110.3 959.12 2110.7 959.06 2111.2 959.80 2111.6 960.29 2112.1 959.58 2112.5 961.94 2113.0 960.26 2113.4 962.32 2113.9 963.23 2114.3 962.57 2114.8 962.21 2115.2 963.03 2115.7 963.58 2116.1 961.54 2116.6 961.91 2117.0 964.13 2117.5 964.39 2117.9 964.33 2118.4 963.87 2118.8 964.19 2119.3 964.37 2119.7 968.40 2120.2 965.61 2120.6 967.77 2121.1 967.54 2121.5 967.31 2122.0 967.36 2122.4 966.90 2122.9 969.03 2123.3 968.73 2123.8 968.19 2124.2 968.05 2124.7 968.49 2125.1 967.35 2125.6 967.97 2126.0 968.01 2126.5 969.51 2126.9 970.16 2127.4 967.88 2127.8 969.00 2128.3 970.84 2128.7 969.18 2129.2 968.86 2129.6 971.25 2130.1 971.02 2130.5 970.74 2131.0 969.97 2131.4 971.34 2131.9 971.18 2132.3 972.10 2132.8 972.80 2133.2 973.49 2133.7 972.78 2134.1 972.46 2134.6 973.09 2135.0 973.33 2135.5 973.85 2135.9 973.42 2136.4 973.74 2136.8 973.62 2137.3 973.72 2137.7 974.71 2138.2 976.27 2138.6 975.15 2139.1 976.11 2139.5 976.34 2140.0 976.32 2140.4 977.07 2140.9 976.15 2141.3 977.18 2141.8 977.40 2142.2 973.55 2142.7 976.48 2143.1 977.87 2143.6 979.92 2144.0 977.51 2144.5 978.03 2144.9 978.59 2145.4 977.48 2145.8 979.55 2146.3 979.57 2146.7 978.35 2147.2 977.61 2147.6 978.30 2148.1 981.66 2148.5 982.72 2149.0 978.21 2149.4 977.45 2149.9 979.98 2150.3 980.14 2150.8 979.75 2151.2 981.07 2151.7 981.10 2152.1 981.43 2152.6 981.65 2153.0 980.38 2153.5 982.65 2153.9 981.65 2154.4 983.13 2154.8 983.29 2155.3 982.76 2155.7 982.81 2156.2 982.74 2156.6 980.90 2157.1 982.01 2157.5 983.33 2158.0 981.71 2158.4 981.39 2158.9 984.21 2159.3 985.05 2159.8 982.96 2160.2 984.54 2160.7 984.69 2161.1 985.99 2161.6 985.20 2162.0 985.17 2162.5 984.74 2162.9 985.75 2163.4 985.91 2163.8 985.55 2164.3 985.90 2164.7 985.74 2165.2 987.31 2165.6 986.23 2166.1 985.43 2166.5 985.90 2167.0 988.34 2167.4 987.56 2167.9 988.62 2168.3 989.18 2168.8 988.11 2169.2 989.19 2169.7 989.38 2170.1 988.94 2170.6 988.15 2171.0 988.66 2171.5 987.60 2171.9 988.40 2172.4 988.44 2172.8 989.64 2173.3 990.04 2173.7 989.20 2174.2 990.63 2174.6 991.60 2175.1 990.84 2175.5 989.82 2176.0 990.93 2176.4 988.24 2176.9 989.43 2177.3 991.23 2177.8 993.51 2178.2 991.46 2178.7 993.32 2179.1 994.95 2179.6 995.16 2180.0 990.75 2180.5 993.07 2180.9 993.02 2181.4 994.01 2181.8 993.18 2182.3 992.53 2182.7 992.79 2183.2 994.85 2183.6 994.95 2184.1 993.84 2184.5 994.27 2185.0 995.04 2185.4 995.07 2185.9 994.51 2186.3 993.73 2186.8 993.45 2187.2 993.78 2187.7 993.85 2188.1 992.85 2188.6 992.77 2189.0 995.32 2189.5 994.13 2189.9 993.60 2190.4 994.88 2190.8 997.04 2191.3 997.68 2191.7 996.17 2192.2 995.05 2192.6 995.29 2193.1 995.06 2193.5 995.46 2194.0 996.81 2194.4 995.69 2194.9 995.69 2195.3 996.35 2195.8 996.93 2196.2 996.41 2196.7 996.29 2197.1 995.97 2197.6 996.35 2198.0 997.97 2198.5 997.79 2198.9 994.68 2199.4 997.76 2199.8 998.17 2200.3 997.53 2200.7 998.06 2201.2 995.31 2201.6 995.94 2202.1 999.33 2202.5 1001.66 2203.0 1002.62 2203.4 999.85 2203.9 999.82 2204.3 1000.71 2204.8 998.91 2205.2 1001.63 2205.7 999.96 2206.1 1000.65 2206.6 999.32 2207.0 1000.60 2207.5 1000.71 2207.9 1002.04 2208.4 1000.14 2208.8 1000.81 2209.3 1003.14 2209.7 1000.73 2210.2 1001.67 2210.6 1002.18 2211.1 1001.41 2211.5 1001.48 2212.0 1003.43 2212.4 1003.90 2212.9 1003.52 2213.3 1003.14 2213.8 1001.55 2214.2 1002.41 2214.7 1004.63 2215.1 1004.65 2215.6 1002.07 2216.0 1000.44 2216.5 1001.48 2216.9 1002.81 2217.4 1002.55 2217.8 1002.78 2218.3 1003.64 2218.7 1004.61 2219.2 1004.25 2219.6 1005.33 2220.1 1002.83 2220.5 1004.09 2221.0 1004.54 2221.4 1002.66 2221.9 1005.07 2222.3 1002.88 2222.8 1002.37 2223.2 1006.82 2223.7 1006.94 2224.1 1006.07 2224.6 1006.93 2225.0 1007.09 2225.5 1004.73 2225.9 1005.77 2226.4 1007.23 2226.8 1006.11 2227.3 1006.06 2227.7 1005.54 2228.2 1006.77 2228.6 1005.87 2229.1 1005.61 2229.5 1004.90 2230.0 1005.03 2230.4 1006.35 2230.9 1007.12 2231.3 1006.47 2231.8 1005.55 2232.2 1006.78 2232.7 1007.27 2233.1 1008.48 2233.6 1006.98 2234.0 1006.57 2234.5 1007.48 2234.9 1008.95 2235.4 1007.75 2235.8 1007.33 2236.3 1006.26 2236.7 1006.54 2237.2 1008.13 2237.6 1008.61 2238.1 1009.10 2238.5 1006.25 2239.0 1008.03 2239.4 1006.73 2239.9 1007.98 2240.3 1005.17 2240.8 1006.73 2241.2 1006.44 2241.7 1008.75 2242.1 1008.32 2242.6 1009.50 2243.0 1008.02 2243.5 1010.19 2243.9 1008.31 2244.4 1010.28 2244.8 1008.36 2245.3 1007.17 2245.7 1008.86 2246.2 1008.06 2246.6 1008.19 2247.1 1006.85 2247.5 1007.53 2248.0 1008.31 2248.0 1008.50 L2248 1034 L2347 1034"/></defs><g clip-path="url(#pa)" shape-rendering="crispEdges" fill="none" stroke="#00B0F0" stroke-linejoin="round" stroke-linecap="round"><use href="#al" stroke-width="4.5"/><use href="#al" stroke-width="3" stroke-linejoin="miter"/><use href="#al" stroke-width="1.5" stroke-linejoin="bevel"/></g><g clip-path="url(#pa)" shape-rendering="crispEdges" stroke="#00B0F0" fill="none" stroke-linecap="butt"><path d="M47.1 32.5H54.9 M58.2 32.5H70.1 M72.8 32.5H84.7 M91.2 32.5H97.5 M99.7 32.5H107.9 M119.0 32.5H135.2 M147.2 32.5H158.8 M176.3 32.5H192.1 M206.0 32.5H218.8 M228.8 32.5H236.8 M245.0 32.5H251.0 M254.5 32.5H262.6 M267.2 32.5H282.7 M295.1 32.5H312.8 M330.0 32.5H347.8 M359.6 32.5H375.4 M391.0 32.5H402.4 M417.8 32.5H435.5 M452.7 32.5H468.5 M485.6 32.5H503.5 M518.8 32.5H536.5 M553.6 32.5H569.5 M586.8 32.5H604.5 M622.0 32.5H639.0 M653.0 32.5H671.1 M686.0 32.5H703.9 M715.0 32.5H727.3 M736.0 32.5H747.1 M754.6 32.5H769.2 M782.1 32.5H792.8 M798.9 32.5H810.0 M818.0 32.5H827.0 M831.0 32.5H840.1 M848.1 32.5H856.0 M862.2 32.5H874.8 M891.9 32.5H903.7 M908.8 32.5H916.6 M919.9 32.5H943.3 M947.2 32.5H954.7 M963.1 32.5H976.3 M978.3 32.5H985.2 M987.9 32.5H996.0 M998.9 32.5H1006.8 M1012.0 32.5H1018.9 M1027.9 32.5H1040.9 M1054.6 32.5H1068.5 M1081.0 32.5H1090.7 M1099.0 32.5H1107.9 M1115.0 32.5H1123.7 M1132.1 32.5H1143.2 M1157.2 32.5H1173.7 M1188.6 32.5H1202.5 M1207.1 32.5H1221.2 M1231.9 32.5H1249.6 M1263.0 32.5H1281.0 M1298.2 32.5H1315.9 M1328.1 32.5H1344.9 M1357.0 32.5H1369.9 M1381.2 32.5H1398.9 M1411.0 32.5H1426.4 M1439.6 32.5H1453.8 M1471.0 32.5H1489.0 M1504.2 32.5H1516.8 M1533.1 32.5H1551.1 M1568.1 32.5H1586.0 M1603.0 32.5H1621.0 M1638.0 32.5H1655.9 M1673.2 32.5H1690.9 M1708.1 32.5H1725.8 M1741.2 32.5H1755.0 M1772.0 32.5H1789.8 M1803.2 32.5H1816.9 M1830.3 32.5H1847.9 M1863.8 32.5H1878.7 M1893.5 32.5H1901.0 M1907.0 32.5H1915.6 M1917.6 32.5H1926.4 M1928.4 32.5H1936.6 M1938.6 32.5H1951.2 M1961.2 33.5H1978.7 M1996.0 33.5H2013.8 M2031.0 33.5H2048.6 M2065.9 33.5H2083.9 M2101.0 33.5H2118.8 M2136.0 33.5H2154.0 M2170.9 33.5H2189.0 M2206.1 33.5H2224.0 M2241.0 33.5H2258.9 M2276.0 33.5H2294.0 M2311.0 33.5H2329.0" stroke-width="4.5"/><path d="M46.1 32.5H55.9 M57.2 32.5H71.1 M71.8 32.5H85.7 M90.2 32.5H98.5 M98.7 32.5H108.9 M118.0 32.5H136.2 M146.2 32.5H159.8 M175.3 32.5H193.1 M205.0 32.5H219.8 M227.8 32.5H237.8 M244.0 32.5H252.0 M253.5 32.5H263.6 M266.2 32.5H283.7 M294.1 32.5H313.8 M329.0 32.5H348.8 M358.6 32.5H376.4 M390.0 32.5H403.4 M416.8 32.5H436.5 M451.7 32.5H469.5 M484.6 32.5H504.5 M517.8 32.5H537.5 M552.6 32.5H570.5 M585.8 32.5H605.5 M621.0 32.5H640.0 M652.0 32.5H672.1 M685.0 32.5H704.9 M714.0 32.5H728.3 M735.0 32.5H748.1 M753.6 32.5H770.2 M781.1 32.5H793.8 M797.9 32.5H811.0 M817.0 32.5H828.0 M830.0 32.5H841.1 M847.1 32.5H857.0 M861.2 32.5H875.8 M890.9 32.5H904.7 M907.8 32.5H917.6 M918.9 32.5H944.3 M946.2 32.5H955.7 M962.1 32.5H977.3 M977.3 32.5H986.2 M986.9 32.5H997.0 M997.9 32.5H1007.8 M1011.0 32.5H1019.9 M1026.9 32.5H1041.9 M1053.6 32.5H1069.5 M1080.0 32.5H1091.7 M1098.0 32.5H1108.9 M1114.0 32.5H1124.7 M1131.1 32.5H1144.2 M1156.2 32.5H1174.7 M1187.6 32.5H1203.5 M1206.1 32.5H1222.2 M1230.9 32.5H1250.6 M1262.0 32.5H1282.0 M1297.2 32.5H1316.9 M1327.1 32.5H1345.9 M1356.0 32.5H1370.9 M1380.2 32.5H1399.9 M1410.0 32.5H1427.4 M1438.6 32.5H1454.8 M1470.0 32.5H1490.0 M1503.2 32.5H1517.8 M1532.1 32.5H1552.1 M1567.1 32.5H1587.0 M1602.0 32.5H1622.0 M1637.0 32.5H1656.9 M1672.2 32.5H1691.9 M1707.1 32.5H1726.8 M1740.2 32.5H1756.0 M1771.0 32.5H1790.8 M1802.2 32.5H1817.9 M1829.3 32.5H1848.9 M1862.8 32.5H1879.7 M1892.5 32.5H1902.0 M1906.0 32.5H1916.6 M1916.6 32.5H1927.4 M1927.4 32.5H1937.6 M1937.6 32.5H1952.2 M1960.2 33.5H1979.7 M1995.0 33.5H2014.8 M2030.0 33.5H2049.6 M2064.9 33.5H2084.9 M2100.0 33.5H2119.8 M2135.0 33.5H2155.0 M2169.9 33.5H2190.0 M2205.1 33.5H2225.0 M2240.0 33.5H2259.9 M2275.0 33.5H2295.0 M2310.0 33.5H2330.0" stroke-width="2.6"/></g><path shape-rendering="crispEdges" d="M46.1 34.6H55.9 M59.0 34.6H71.1 M72.4 34.6H85.7 M90.2 34.6H95.9 M98.7 34.6H108.9 M118.0 34.6H122.6 M148.0 34.6H159.8 M181.0 34.6H187.4 M206.5 34.6H213.4 M229.3 34.6H237.0 M244.0 34.6H252.0 M255.4 34.6H261.0 M273.2 34.6H278.9 M368.1 34.6H373.0 M393.2 34.6H400.9 M452.0 34.6H457.0 M565.0 34.6H569.9 M635.0 34.6H640.0 M714.0 34.6H723.6 M737.0 34.6H745.0 M757.0 34.6H762.0 M782.0 34.6H786.0 M789.0 34.6H793.8 M797.9 34.6H806.7 M818.0 34.6H822.8 M830.0 34.6H838.6 M848.0 34.6H855.6 M862.0 34.6H867.5 M895.0 34.6H903.0 M908.0 34.6H917.6 M918.9 34.6H944.3 M946.2 34.6H955.7 M962.1 34.6H977.3 M977.3 34.6H986.2 M986.9 34.6H997.0 M997.9 34.6H1007.8 M1011.0 34.6H1019.9 M1029.0 34.6H1034.0 M1057.0 34.6H1062.0 M1081.0 34.6H1091.0 M1098.0 34.6H1108.9 M1114.0 34.6H1124.7 M1131.1 34.6H1144.2 M1157.0 34.6H1160.0 M1190.0 34.6H1197.0 M1207.6 34.6H1212.7 M1342.3 34.6H1345.9 M1356.3 34.6H1365.2 M1412.8 34.6H1417.9 M1440.8 34.6H1445.9 M1512.0 34.6H1517.8 M1741.3 34.6H1751.0 M1810.1 34.6H1817.9 M1874.0 34.6H1879.0 M1893.0 34.6H1901.7 M1906.0 34.6H1911.0 M1918.5 34.6H1924.9 M1937.6 34.6H1942.4 M1947.0 34.6H1952.2" stroke="#00B0F0" stroke-width="4.5" fill="none" stroke-linecap="butt"/><g shape-rendering="crispEdges" stroke="#00B0F0" fill="none" stroke-linecap="butt"><path d="M720.2 218.5H737.8 M755.3 218.5H772.8 M1023.4 218.5H1074.8" stroke-width="4.5"/><path d="M719.2 218.5H738.8 M754.3 218.5H773.8 M1022.4 218.5H1075.8" stroke-width="2.6"/></g><g font-family="Liberation Sans, Arial, sans-serif" font-weight="bold" font-size="32.5" fill="#595959" text-rendering="geometricPrecision"><text transform="translate(777.5 228.7) scale(1 1.045)">V</text><text transform="translate(1079.6 228.7) scale(0.96 1.045)">A</text></g></svg>
</body></html>
